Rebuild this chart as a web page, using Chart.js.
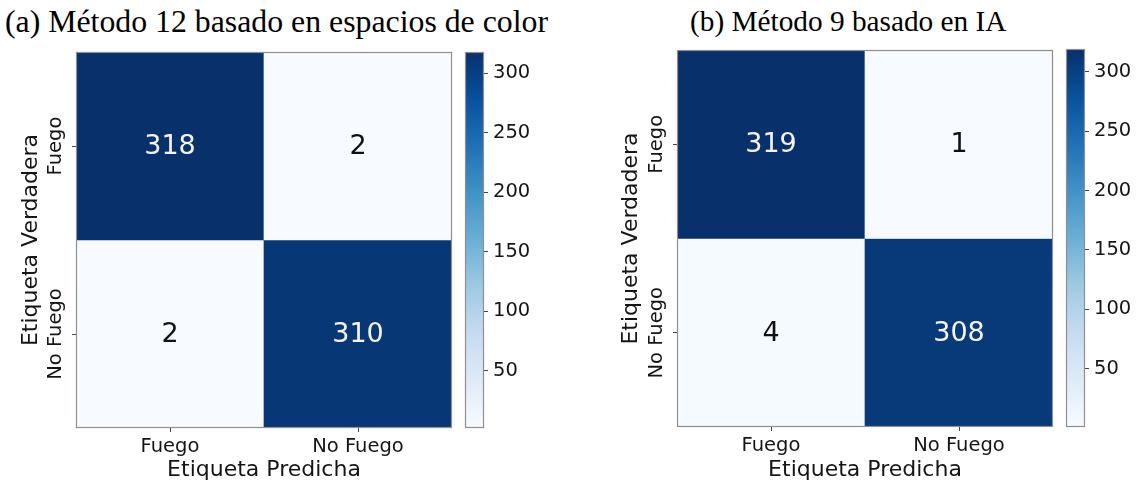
<!DOCTYPE html>
<html>
<head>
<meta charset="utf-8">
<script src="https://cdn.jsdelivr.net/npm/chart.js@4.4.1/dist/chart.umd.min.js"></script>
<style>
  html, body { margin: 0; padding: 0; background: #ffffff; }
  body { width: 1143px; height: 488px; position: relative; overflow: hidden; }
  canvas { position: absolute; top: 0; }
  .cap { position: absolute; font-family: "Liberation Serif", "Times New Roman", serif; color: #000; white-space: nowrap; line-height: 1; }
</style>
</head>
<body>
<div class="cap" id="capA" style="left:5px; top:6px; font-size:31.8px;">(a) Método 12 basado en espacios de color</div>
<div class="cap" id="capB" style="left:690px; top:7px; font-size:29.3px;">(b) Método 9 basado en IA</div>
<canvas id="matA" width="462" height="488" style="left:0px"></canvas>
<canvas id="cbA" width="100" height="488" style="left:455px"></canvas>
<canvas id="matB" width="463" height="488" style="left:600px"></canvas>
<canvas id="cbB" width="87" height="488" style="left:1056px"></canvas>
<script>
// ---- data ----
const categories = ['Fuego', 'No Fuego'];          // predicted (x) and true (y) labels
const valuesA_trueFuego   = [318, 2];
const valuesA_trueNoFuego = [2, 310];
const valuesB_trueFuego   = [319, 1];
const valuesB_trueNoFuego = [4, 308];
const colorbarTicks = [50, 100, 150, 200, 250, 300];
const axisTitleX = 'Etiqueta Predicha';
const axisTitleY = 'Etiqueta Verdadera';

// matplotlib "Blues" colormap anchors
const BLUES = ['#f7fbff','#deebf7','#c6dbef','#9ecae1','#6baed6','#4292c6','#2171b5','#08519c','#08306b'];
function hex2rgb(h){ return [parseInt(h.substr(1,2),16), parseInt(h.substr(3,2),16), parseInt(h.substr(5,2),16)]; }
function blues(t){
  t = Math.max(0, Math.min(1, t));
  const p = t * (BLUES.length - 1);
  const i = Math.min(Math.floor(p), BLUES.length - 2);
  const f = p - i;
  const a = hex2rgb(BLUES[i]), b = hex2rgb(BLUES[i+1]);
  const c = a.map((v, k) => Math.round(v + (b[k] - v) * f));
  return 'rgb(' + c.join(',') + ')';
}
function lum(t){
  const s = blues(t).match(/\d+/g).map(Number).map(v => { v /= 255; return v <= 0.03928 ? v/12.92 : Math.pow((v+0.055)/1.055, 2.4); });
  return 0.2126*s[0] + 0.7152*s[1] + 0.0722*s[2];
}

const FONT = "'DejaVu Sans', 'Liberation Sans', sans-serif";
const TXT = '#151515';
const FRAME = '#8f8f8f';
const TICK_SIZE = 19.5;

const frame = {
  id: 'frame',
  afterDraw(chart) {
    const a = chart.chartArea, ctx = chart.ctx;
    ctx.save();
    ctx.strokeStyle = FRAME; ctx.lineWidth = 1.2;
    ctx.strokeRect(Math.round(a.left) + 0.5, Math.round(a.top) + 0.5, Math.round(a.right - a.left) - 1, Math.round(a.bottom - a.top) - 1);
    ctx.restore();
  }
};

const cellText = {
  id: 'cellText',
  afterDatasetsDraw(chart) {
    const ctx = chart.ctx;
    const o = chart.options.plugins.cellText;
    ctx.save();
    ctx.font = '27px ' + FONT;
    ctx.textAlign = 'center'; ctx.textBaseline = 'middle';
    chart.data.datasets.forEach((ds, di) => {
      const meta = chart.getDatasetMeta(di);
      meta.data.forEach((el, i) => {
        const v = ds.counts[i];
        const t = (v - o.vmin) / (o.vmax - o.vmin);
        ctx.fillStyle = lum(t) < 0.408 ? '#f4f4f4' : '#111111';
        ctx.fillText(String(v), el.x, (el.y + el.base) / 2 + 1);
      });
    });
    ctx.restore();
  }
};

const yLabels = {
  id: 'yLabels',
  afterDraw(chart) {
    const s = chart.scales.y, ctx = chart.ctx;
    ctx.save();
    ctx.font = TICK_SIZE + 'px ' + FONT; ctx.fillStyle = TXT;
    ctx.textAlign = 'center'; ctx.textBaseline = 'middle';
    s.ticks.forEach(tk => {
      const y = s.getPixelForValue(tk.value);
      ctx.save();
      ctx.translate(s.right - 20, y);
      ctx.rotate(-Math.PI / 2);
      ctx.fillText(tk.label, 0, 0);
      ctx.restore();
    });
    ctx.restore();
  }
};

function makeMatrix(id, rowFuego, rowNoFuego, geom) {
  const all = rowFuego.concat(rowNoFuego);
  const vmin = Math.min(...all), vmax = Math.max(...all);
  const col = arr => arr.map(v => blues((v - vmin) / (vmax - vmin)));
  return new Chart(document.getElementById(id), {
    type: 'bar',
    data: {
      labels: categories,
      datasets: [
        { label: categories[0], counts: rowFuego, data: rowFuego.map(() => [1, 2]), backgroundColor: col(rowFuego), borderWidth: 0, grouped: false, barPercentage: 1, categoryPercentage: 1 },
        { label: categories[1], counts: rowNoFuego, data: rowNoFuego.map(() => [0, 1]), backgroundColor: col(rowNoFuego), borderWidth: 0, grouped: false, barPercentage: 1, categoryPercentage: 1 }
      ]
    },
    options: {
      responsive: false, animation: false, devicePixelRatio: 1,
      layout: { padding: { top: geom.top, right: 10, left: 0, bottom: 0 } },
      plugins: { legend: { display: false }, tooltip: { enabled: false }, title: { display: false }, cellText: { vmin, vmax } },
      scales: {
        x: {
          type: 'category', offset: true,
          grid: { display: true, drawOnChartArea: false, drawTicks: true, tickLength: 4, color: '#444', offset: false },
          border: { display: false },
          ticks: { font: { family: FONT, size: TICK_SIZE }, color: TXT, padding: 3, maxRotation: 0 },
          title: { display: true, text: axisTitleX, font: { family: FONT, size: 22 }, color: TXT, padding: { top: 0, bottom: 5 } },
          afterFit(s) { s.height = geom.xh; }
        },
        y: {
          type: 'linear', min: 0, max: 2,
          afterBuildTicks(s) { s.ticks = [{ value: 1.5 }, { value: 0.5 }]; },
          grid: { display: true, drawOnChartArea: false, drawTicks: true, tickLength: 4, color: '#444' },
          border: { display: false },
          ticks: { display: false, callback: (value) => categories[Math.floor(2 - value)] },
          title: { display: true, text: axisTitleY, font: { family: FONT, size: 22 }, color: TXT, padding: { top: 18, bottom: 0 } },
          afterFit(s) { s.width = geom.yw; }
        }
      }
    },
    plugins: [cellText, frame, yLabels]
  });
}

function makeColorbar(id, rowFuego, rowNoFuego, geom) {
  const all = rowFuego.concat(rowNoFuego);
  const vmin = Math.min(...all), vmax = Math.max(...all);
  return new Chart(document.getElementById(id), {
    type: 'bar',
    data: {
      labels: [''],
      datasets: [{
        data: [[vmin, vmax]],
        borderWidth: 0, barPercentage: 1, categoryPercentage: 1,
        backgroundColor(ctx) {
          const chart = ctx.chart;
          if (!chart.chartArea) return BLUES[4];
          const ys = chart.scales.y;
          const g = chart.ctx.createLinearGradient(0, ys.getPixelForValue(vmin), 0, ys.getPixelForValue(vmax));
          BLUES.forEach((c, i) => g.addColorStop(i / (BLUES.length - 1), c));
          return g;
        }
      }]
    },
    options: {
      responsive: false, animation: false, devicePixelRatio: 1,
      layout: { padding: { top: geom.top, right: 0, left: 10, bottom: geom.bottom } },
      plugins: { legend: { display: false }, tooltip: { enabled: false } },
      scales: {
        x: { display: false },
        y: {
          type: 'linear', position: 'right', min: vmin, max: vmax,
          afterBuildTicks(s) { s.ticks = colorbarTicks.map(v => ({ value: v })); },
          grid: { display: true, drawOnChartArea: false, drawTicks: true, tickLength: 4, color: '#444' },
          border: { display: false },
          ticks: { font: { family: FONT, size: TICK_SIZE }, color: TXT, padding: 5 },
          afterFit(s) { s.width = geom.yw; }
        }
      }
    },
    plugins: [frame]
  });
}

makeMatrix('matA', valuesA_trueFuego, valuesA_trueNoFuego, { top: 52, xh: 60, yw: 76 });
makeColorbar('cbA', valuesA_trueFuego, valuesA_trueNoFuego, { top: 52, bottom: 60, yw: 71 });
makeMatrix('matB', valuesB_trueFuego, valuesB_trueNoFuego, { top: 50, xh: 61, yw: 77 });
makeColorbar('cbB', valuesB_trueFuego, valuesB_trueNoFuego, { top: 49, bottom: 61, yw: 58 });
</script>
</body>
</html>
